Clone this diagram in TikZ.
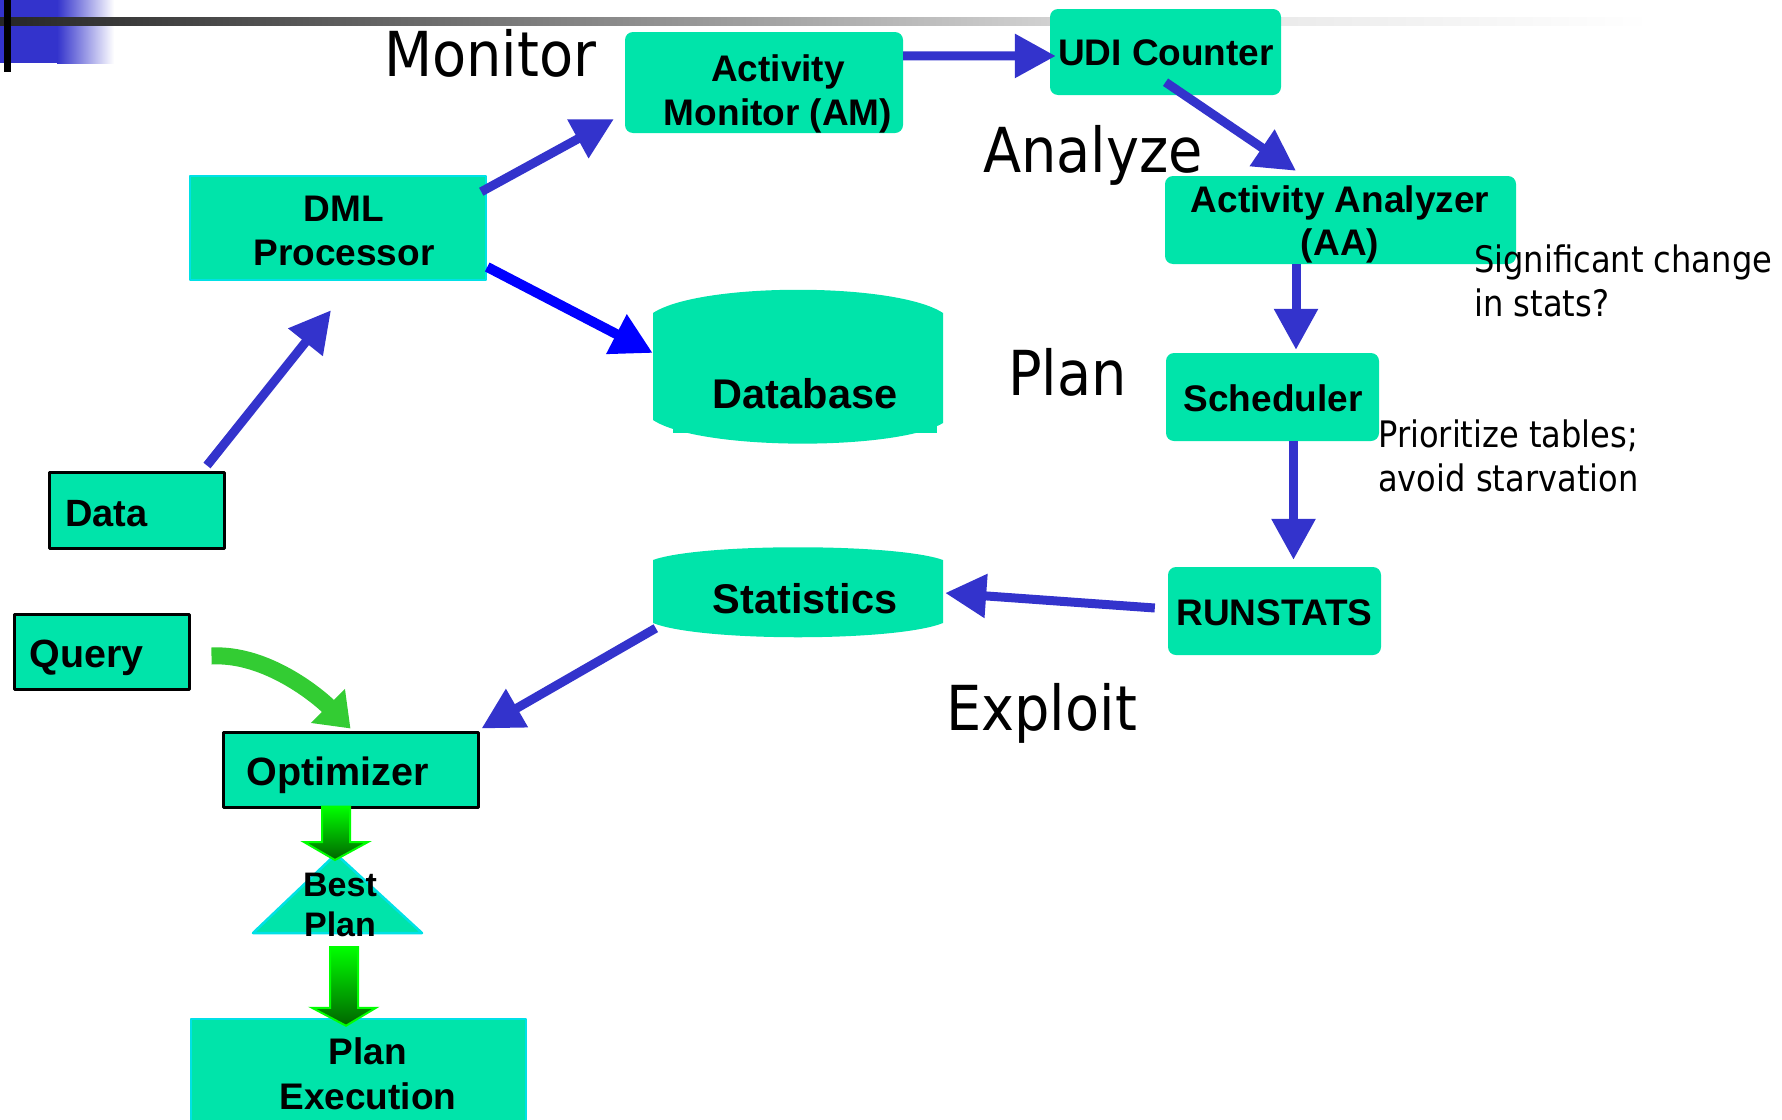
\documentclass[tikz,border=0pt]{standalone}
\usepackage{fontspec}
\setmainfont{Liberation Sans}
\newfontfamily\lblfont[FakeStretch=0.88]{DejaVu Sans}
\newfontfamily\stagefont[FakeStretch=0.9]{DejaVu Sans}
\usetikzlibrary{arrows.meta,calc}

\definecolor{nodefill}{RGB}{0,228,170}
\definecolor{boxcyan}{RGB}{0,225,230}
\definecolor{flowblue}{RGB}{51,51,204}
\definecolor{dbblue}{RGB}{0,0,255}
\definecolor{qgreen}{RGB}{51,204,51}
\definecolor{arrlight}{RGB}{0,255,0}
\definecolor{arrdark}{RGB}{0,100,0}

\tikzset{
  box/.style={fill=nodefill, inner sep=0pt},
  rbox/.style={box, rounded corners=8pt},
  cbox/.style={box, draw=boxcyan, line width=2.5pt},
  kbox/.style={box, draw=black, line width=3pt},
  btxt/.style={font=\fontsize{37}{44}\selectfont\bfseries, inner sep=0pt},
  stage/.style={font=\stagefont\fontsize{62}{70}\selectfont, anchor=base west, inner sep=0pt},
  note/.style={font=\lblfont\fontsize{36.5}{44}\selectfont, align=left, anchor=west, inner sep=0pt},
  flow/.style={draw=flowblue, line width=9pt, -{Triangle[length=41pt,width=42pt]}},
  qflow/.style={draw=qgreen, line width=17pt, -{Triangle[length=32pt,width=46pt]}},
  blockarr/.style={top color=arrlight, bottom color=arrdark, draw=arrlight, line width=2pt, line join=miter},
}

% green block arrow from top centre #1 to tip #2
\newcommand{\blockarrow}[2]{%
  \shadedraw[blockarr] let \p1=(#1), \p2=(#2) in
    (\x1-14pt,\y1) -- (\x1+14pt,\y1) -- (\x1+14pt,\y2+18pt) -- (\x1+32pt,\y2+18pt)
    -- (\x2,\y2) -- (\x1-32pt,\y2+18pt) -- (\x1-14pt,\y2+18pt) -- cycle;}

\begin{document}
\begin{tikzpicture}[x=1pt, y=-1pt, line join=round]
\useasboundingbox (0,0) rectangle (1782,1119);
\clip (0,0) rectangle (1782,1119);

% slide header
\fill[flowblue] (0,0) rectangle (57,63);
\shade[left color=flowblue, right color=white] (57,0) rectangle (114,63);
\shade[left color=black!85, right color=black!18] (0,17) rectangle (1050,25);
\shade[left color=black!8, right color=white] (1281,17) rectangle (1650,25);
\fill[black] (4,0) rectangle (11,72);

% boxes
\node[rbox, minimum width=278, minimum height=101] (am) at (764,82.5) {};
\node[rbox, minimum width=231, minimum height=86] (udi) at (1165.5,52) {};
\node[cbox, minimum width=296, minimum height=104] (dml) at (338,228) {};
\node[rbox, minimum width=351, minimum height=88] (aa) at (1340.5,220) {};
\node[rbox, minimum width=213, minimum height=88] (sch) at (1272.5,397) {};
\node[rbox, minimum width=213, minimum height=88] (run) at (1274.5,611) {};
\node[kbox, minimum width=175, minimum height=76] (data) at (136.5,510) {};
\node[kbox, minimum width=175, minimum height=75] (query) at (101.5,651.5) {};
\node[kbox, minimum width=255, minimum height=75] (opt) at (350.5,769.5) {};
\node[cbox, minimum width=335, minimum height=112] (pe) at (358.5,1075) {};

% database and statistics stores
\fill[nodefill] (653,313) .. controls (700,282) and (896,282) .. (943,313) -- (943,423)
  .. controls (896,451) and (700,451) .. (653,420) -- cycle;
\fill[nodefill] (673,415) rectangle (937,433);
\node[inner sep=0pt, minimum width=290, minimum height=153] (db) at (798,366.5) {};
\fill[nodefill] (653,560) .. controls (700,543) and (896,543) .. (943,560) -- (943,623)
  .. controls (896,642) and (700,642) .. (653,623) -- cycle;
\node[inner sep=0pt, minimum width=290, minimum height=90] (stat) at (798,592) {};

% best plan
\filldraw[fill=nodefill, draw=boxcyan, line width=2.5pt] (336,854) -- (422,933) -- (253,933) -- cycle;
\coordinate (bp) at (336,854);
\coordinate (bp-base) at (337.5,933);

% connectors
\draw[flow] ($(dml.north east)+(-6,17)$) -- ($(am.south west)+(-11,-14)$);
\draw[flow] ($(am.north east)+(0,24)$) -- ($(udi.west)+(6,4)$);
\draw[flow] ($(udi.south)+(0,-13)$) -- ($(aa.north)+(-44.5,-5)$);
\draw[flow] ($(aa.south)+(-44.5,0)$) -- ($(sch.north)+(23.5,-3)$);
\draw[flow] ($(sch.south)+(21,0)$) -- ($(run.north)+(19,-7)$);
\draw[flow] ($(run.west)+(-13,-3)$) -- ($(stat.east)+(2,1)$);
\draw[flow] ($(stat.south west)+(3,-9)$) -- ($(opt.north east)+(2,-2)$);
\draw[flow] ($(data.north)+(70.5,-5)$) -- ($(dml.south)+(-7,29)$);
\draw[flow, draw=dbblue, line width=10pt] ($(dml.east)+(0,39)$) -- ($(db.west)+(0,-13.5)$);
\draw[qflow] ($(query.east)+(21,4.5)$) .. controls +(55,-3) and +(-32,-32) .. ($(opt.north)+(0,-2)$);
\blockarrow{$(opt.south)+(-14.5,-2)$}{$(bp)+(-1,6)$}
\blockarrow{$(bp-base)+(6.5,14)$}{$(pe.north)+(-12.5,8)$}

% texts
\node[btxt, align=center] (am-t) at (778,94.4) {Activity\\Monitor (AM)};
\node[btxt, anchor=base] (udi-t) at (1166,65) {UDI Counter};
\node[btxt, align=center] (dml-t) at (344,231) {DML\\Processor};
\node[btxt, anchor=base, font=\fontsize{41.5}{48}\selectfont\bfseries] (db-t) at (805,408) {Database};
\node[btxt, anchor=base, font=\fontsize{41.5}{48}\selectfont\bfseries] (stat-t) at (805,613) {Statistics};
\node[btxt, align=center, font=\fontsize{37}{43}\selectfont\bfseries] (aa-t) at (1340,224) {Activity Analyzer\\(AA)};
\node[btxt, anchor=base] (sch-t) at (1273,411) {Scheduler};
\node[btxt, anchor=base] (run-t) at (1274.5,625) {RUNSTATS};
\node[btxt, anchor=base west, font=\fontsize{38}{44}\selectfont\bfseries] (data-t) at (65,526) {Data};
\node[btxt, anchor=base west, font=\fontsize{39.4}{44}\selectfont\bfseries] (query-t) at (29.5,667) {Query};
\node[btxt, anchor=base west, font=\fontsize{39.5}{44}\selectfont\bfseries] (opt-t) at (246.5,785) {Optimizer};
\node[btxt, align=center, font=\fontsize{34}{40}\selectfont\bfseries] (bp-t) at (340,905) {Best\\Plan};
\node[btxt, align=center, font=\fontsize{37}{45}\selectfont\bfseries] (pe-t) at (368,1074) {Plan\\Execution};

\node[stage] (monitor) at (384,76) {Monitor};
\node[stage] (analyze) at (983,172) {Analyze};
\node[stage] (plan) at (1008,395) {Plan};
\node[stage] (exploit) at (946,730) {Exploit};

\node[note] (sig) at (1474,281) {Significant change\\in stats?};
\node[note] (prio) at (1378,456) {Prioritize tables;\\avoid starvation};
\end{tikzpicture}
\end{document}
